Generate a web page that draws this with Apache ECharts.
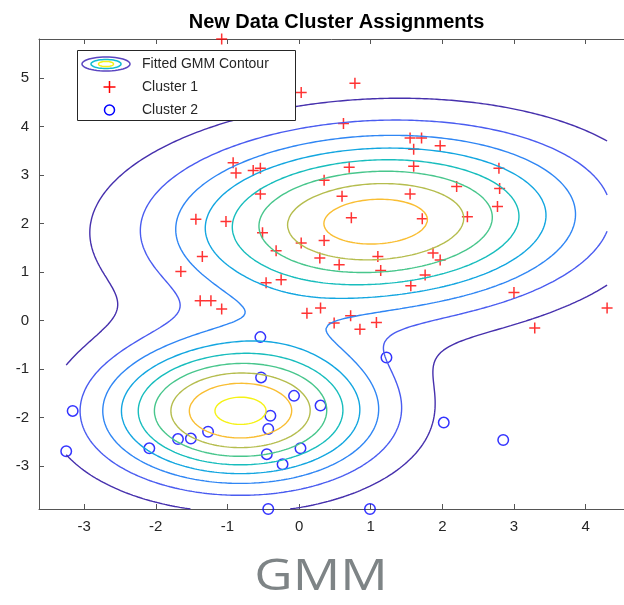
<!DOCTYPE html>
<html><head><meta charset="utf-8">
<script src="https://cdn.jsdelivr.net/npm/echarts@6/dist/echarts.min.js"></script>
<style>html,body{margin:0;padding:0;background:#fff;overflow:hidden}#c{width:624px;height:605px}</style>
</head><body><div id="c"></div>
<script>
// ---- data ----
const cluster1X = [-1.08,0.03,0.78,0.62,1.55,1.71,1.60,1.97,0.70,1.60,2.79,0.35,2.80,2.20,1.55,0.60,2.77,0.73,1.72,2.35,0.03,0.35,0.29,1.10,1.87,1.97,0.56,1.14,1.76,1.56,3.00,4.30,0.11,0.30,0.72,0.49,1.08,0.85,3.29,-0.92,-0.88,-0.64,-0.54,-0.54,-1.44,-1.02,-0.51,-0.32,-1.35,-1.65,-0.46,-0.25,-1.38,-1.23,-1.08];
const cluster1Y = [5.80,4.70,4.89,4.06,3.76,3.76,3.53,3.60,3.16,3.18,3.14,2.89,2.72,2.76,2.61,2.56,2.35,2.12,2.10,2.14,1.60,1.65,1.29,1.32,1.39,1.25,1.15,1.03,0.94,0.72,0.58,0.26,0.15,0.26,0.10,-0.05,-0.04,-0.18,-0.15,3.25,3.04,3.09,3.14,2.61,2.09,2.04,1.81,1.44,1.32,1.01,0.78,0.84,0.41,0.41,0.24];
const cluster2X = [-0.54,-0.53,-0.07,0.30,-0.40,-0.43,-1.27,-1.51,-1.69,-2.09,-3.16,-3.25,-0.45,0.02,-0.23,-0.43,1.22,2.02,2.85,0.99];
const cluster2Y = [-0.34,-1.17,-1.55,-1.75,-1.96,-2.23,-2.29,-2.43,-2.44,-2.63,-1.86,-2.69,-2.75,-2.63,-2.96,-3.88,-0.76,-2.10,-2.46,-3.88];

// fitted GMM (estimated from the drawn contours)
const gmmWeights = [0.633, 0.367];
const gmmMu1 = [1.07, 2.04];
const gmmSigma1 = [[3.7, 0.2], [0.2, 1.5]];
const gmmMu2 = [-0.82, -1.87];
const gmmSigma2 = [[1.62, 0.0], [0.0, 0.97]];
const contourLevels = [0.005, 0.010, 0.015, 0.020, 0.025, 0.030, 0.035, 0.040, 0.045];
const contourColors = ['#4630ad', '#4a5cf0', '#2f86f4', '#13a6e0', '#18bdbd', '#48c68c', '#b5bd4e', '#f9be33', '#f5f216'];

const xTicks = [-3, -2, -1, 0, 1, 2, 3, 4];
const yTicks = [-3, -2, -1, 0, 1, 2, 3, 4, 5];

// ---- GMM density ----
function gauss(x, y, mu, S) {
  const det = S[0][0] * S[1][1] - S[0][1] * S[1][0];
  const dx = x - mu[0], dy = y - mu[1];
  const q = (S[1][1] * dx * dx - 2 * S[0][1] * dx * dy + S[0][0] * dy * dy) / det;
  return Math.exp(-0.5 * q) / (2 * Math.PI * Math.sqrt(det));
}
function gmPDF(x, y) {
  return gmmWeights[0] * gauss(x, y, gmmMu1, gmmSigma1) + gmmWeights[1] * gauss(x, y, gmmMu2, gmmSigma2);
}

// contour grid over the range of the new data (as fcontour did)
const allX = cluster1X.concat(cluster2X), allY = cluster1Y.concat(cluster2Y);
const gx0 = Math.min(...allX), gx1 = Math.max(...allX);
const gy0 = Math.min(...allY), gy1 = Math.max(...allY);
const N = 220;
const xs = [], ys = [];
for (let i = 0; i < N; i++) { xs.push(gx0 + (gx1 - gx0) * i / (N - 1)); ys.push(gy0 + (gy1 - gy0) * i / (N - 1)); }
const Z = ys.map(y => xs.map(x => gmPDF(x, y)));

function marching(level) {
  const segs = [];
  const ptH = (i, j) => { const a = Z[i][j], b = Z[i][j + 1]; const t = (level - a) / (b - a); return { k: 'h' + i + '_' + j, p: [xs[j] + t * (xs[j + 1] - xs[j]), ys[i]] }; };
  const ptV = (i, j) => { const a = Z[i][j], b = Z[i + 1][j]; const t = (level - a) / (b - a); return { k: 'v' + i + '_' + j, p: [xs[j], ys[i] + t * (ys[i + 1] - ys[i])] }; };
  for (let i = 0; i < N - 1; i++) {
    for (let j = 0; j < N - 1; j++) {
      const bl = Z[i][j] >= level, br = Z[i][j + 1] >= level, tr = Z[i + 1][j + 1] >= level, tl = Z[i + 1][j] >= level;
      const e = [];
      const B = bl !== br, R = br !== tr, T = tl !== tr, L = bl !== tl;
      const cnt = B + R + T + L;
      if (cnt === 0) continue;
      if (cnt === 2) {
        if (B) e.push(ptH(i, j)); if (R) e.push(ptV(i, j + 1)); if (T) e.push(ptH(i + 1, j)); if (L) e.push(ptV(i, j));
        segs.push([e[0], e[1]]);
      } else {
        const c = (Z[i][j] + Z[i][j + 1] + Z[i + 1][j + 1] + Z[i + 1][j]) / 4 >= level;
        const b = ptH(i, j), r = ptV(i, j + 1), t = ptH(i + 1, j), l = ptV(i, j);
        if (bl === c) { segs.push([b, r]); segs.push([t, l]); }
        else { segs.push([l, b]); segs.push([t, r]); }
      }
    }
  }
  const map = new Map();
  segs.forEach((s, idx) => { s.forEach(pt => { if (!map.has(pt.k)) map.set(pt.k, []); map.get(pt.k).push(idx); }); });
  const used = new Array(segs.length).fill(false);
  const lines = [];
  function walk(startIdx, startKey) {
    const pts = [];
    let idx = startIdx, key = startKey;
    const s0 = segs[idx];
    pts.push((s0[0].k === key ? s0[0] : s0[1]).p);
    while (idx !== -1 && !used[idx]) {
      used[idx] = true;
      const s = segs[idx];
      const other = s[0].k === key ? s[1] : s[0];
      pts.push(other.p);
      key = other.k;
      const nb = map.get(key).filter(n => !used[n]);
      idx = nb.length ? nb[0] : -1;
    }
    return pts;
  }
  for (const [k, arr] of map) {
    if (arr.length === 1 && !used[arr[0]]) lines.push(walk(arr[0], k));
  }
  for (let i = 0; i < segs.length; i++) {
    if (!used[i]) lines.push(walk(i, segs[i][0].k));
  }
  return lines;
}

const contourSeries = [];
contourLevels.forEach((lv, li) => {
  marching(lv).forEach(pts => {
    contourSeries.push({
      type: 'line', data: pts, showSymbol: false, symbol: 'none', silent: true,
      lineStyle: { color: contourColors[li], width: 1.4 }, z: 3, animation: false
    });
  });
});

function ellipsePts(cx, cy, rx, ry) {
  const p = [];
  for (let k = 0; k < 48; k++) { const a = 2 * Math.PI * k / 48; p.push([cx + rx * Math.cos(a), cy + ry * Math.sin(a)]); }
  return p;
}

const chart = echarts.init(document.getElementById('c'), null, { renderer: 'canvas' });
const axisColor = '#262626';
const fontFam = '"Liberation Sans", Arial, Helvetica, sans-serif';
const xMin = -3.63, xMax = 4.536;
chart.setOption({
  animation: false,
  backgroundColor: '#ffffff',
  grid: { left: 39, top: 39, right: 0, height: 470, containLabel: false },
  xAxis: [{
    type: 'value', min: xMin, max: xMax, position: 'bottom',
    axisLine: { show: true, onZero: false, lineStyle: { color: '#555', width: 1 } },
    axisTick: { show: true, inside: true, length: 5, customValues: xTicks, lineStyle: { color: '#555' } },
    axisLabel: { show: true, customValues: xTicks, margin: 10, color: axisColor, fontSize: 15, fontFamily: fontFam },
    splitLine: { show: false }
  }, {
    type: 'value', min: xMin, max: xMax, position: 'top',
    axisLine: { show: true, onZero: false, lineStyle: { color: '#555', width: 1 } },
    axisTick: { show: true, inside: true, length: 5, customValues: xTicks, lineStyle: { color: '#555' } },
    axisLabel: { show: false },
    splitLine: { show: false }
  }],
  yAxis: [{
    type: 'value', min: -3.88, max: 5.80, position: 'left',
    axisLine: { show: true, onZero: false, lineStyle: { color: '#555', width: 1 } },
    axisTick: { show: true, inside: true, length: 5, customValues: yTicks, lineStyle: { color: '#555' } },
    axisLabel: { show: true, customValues: yTicks, margin: 10, color: axisColor, fontSize: 15, fontFamily: fontFam },
    splitLine: { show: false }
  }],
  series: [
    {
      name: 'Cluster 1', type: 'scatter', data: cluster1X.map((x, i) => [x, cluster1Y[i]]),
      symbol: 'path://M5 0 L5 10 M0 5 L10 5', symbolSize: 11,
      itemStyle: { color: 'rgba(0,0,0,0)', borderColor: '#ff0000', borderWidth: 1.5 }, z: 2
    },
    {
      name: 'Cluster 2', type: 'scatter', data: cluster2X.map((x, i) => [x, cluster2Y[i]]),
      symbol: 'circle', symbolSize: 10.5,
      itemStyle: { color: 'rgba(0,0,0,0)', borderColor: '#0000ff', borderWidth: 1.5 }, z: 2
    }
  ].concat(contourSeries),
  graphic: [
    { type: 'text', x: 336.5, y: 22, z: 10, style: { text: 'New Data Cluster Assignments', fill: '#000', font: 'bold 20px ' + fontFam, textAlign: 'center', textVerticalAlign: 'middle' } },
    { type: 'rect', z: 10, shape: { x: 77.5, y: 50.5, width: 218, height: 70 }, style: { fill: '#fff', stroke: '#262626', lineWidth: 1 } },
    { type: 'polygon', z: 11, shape: { points: ellipsePts(106, 64, 24, 7) }, style: { fill: null, stroke: '#5a44c0', lineWidth: 1.5 } },
    { type: 'polygon', z: 11, shape: { points: ellipsePts(106, 64, 15, 4.5) }, style: { fill: null, stroke: '#12bcd0', lineWidth: 1.5 } },
    { type: 'polygon', z: 11, shape: { points: ellipsePts(106, 64, 7.5, 2.6) }, style: { fill: null, stroke: contourColors[8], lineWidth: 1.5 } },
    { type: 'text', x: 142, y: 64.5, z: 11, style: { text: 'Fitted GMM Contour', fill: '#262626', font: '14px ' + fontFam, textVerticalAlign: 'middle' } },
    { type: 'line', z: 11, shape: { x1: 103.5, y1: 87, x2: 115.5, y2: 87 }, style: { stroke: '#ff0000', lineWidth: 1.5 } },
    { type: 'line', z: 11, shape: { x1: 109.5, y1: 81, x2: 109.5, y2: 93 }, style: { stroke: '#ff0000', lineWidth: 1.5 } },
    { type: 'text', x: 142, y: 87, z: 11, style: { text: 'Cluster 1', fill: '#262626', font: '14px ' + fontFam, textVerticalAlign: 'middle' } },
    { type: 'circle', z: 11, shape: { cx: 109.5, cy: 110, r: 5 }, style: { fill: null, stroke: '#0000ff', lineWidth: 1.5 } },
    { type: 'text', x: 142, y: 110, z: 11, style: { text: 'Cluster 2', fill: '#262626', font: '14px ' + fontFam, textVerticalAlign: 'middle' } },
    { type: 'text', x: 321, y: 577, scaleX: 1.2, z: 11, style: { text: 'GMM', fill: '#7e8486', font: '44px "Open Sans", "Noto Sans", sans-serif', textAlign: 'center', textVerticalAlign: 'middle' } }
  ]
});
</script>
</body></html>
